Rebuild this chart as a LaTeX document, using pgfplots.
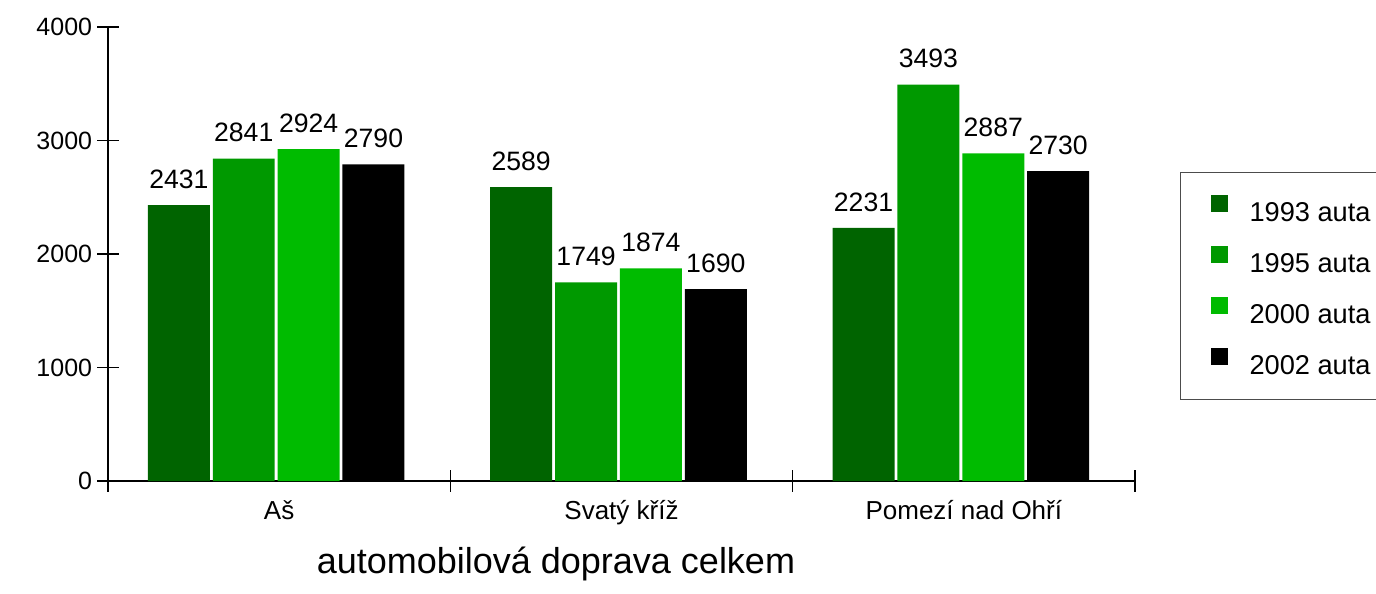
\documentclass[border=0pt]{standalone}
\usepackage{pgfplots}
\pgfplotsset{compat=1.18}
\usepackage{pgfplotstable}
\usepackage{fontspec}
\setmainfont{Liberation Sans}
\definecolor{cA}{RGB}{0,100,0}
\definecolor{cB}{RGB}{0,153,0}
\definecolor{cC}{RGB}{0,187,0}
\definecolor{cD}{RGB}{0,0,0}
\pgfplotstableread{
x y
0 2431
1 2589
2 2231
}\tA
\pgfplotstableread{
x y
0 2841
1 1749
2 3493
}\tB
\pgfplotstableread{
x y
0 2924
1 1874
2 2887
}\tC
\pgfplotstableread{
x y
0 2790
1 1690
2 2730
}\tD
\begin{document}
\begin{tikzpicture}
\useasboundingbox (-54pt,-56.5pt) rectangle (634pt,240.5pt);
\begin{axis}[
  at={(0,0)}, anchor=south west,
  scale only axis, width=513.5pt, height=227pt,
  clip=false,
  ybar, bar width=0.181,
  xmin=-0.5, xmax=2.5, ymin=0, ymax=4000,
  axis x line*=bottom, axis y line*=left,
  x axis line style={line width=1pt},
  y axis line style={line width=0.6pt},
  xtick={-0.5,0.5,1.5,2.5}, xticklabels={,,,,},
  extra x ticks={0,1,2},
  extra x tick labels={Aš,Svatý kříž,Pomezí nad Ohří},
  extra x tick style={major tick length=0pt,
    tick label style={font=\fontsize{13}{15}\selectfont, anchor=north, inner sep=0pt, text height=9.3pt, yshift=-9.5pt}},
  ytick={0,1000,2000,3000,4000},
  scaled y ticks=false,
  /pgf/number format/1000 sep={},
  /pgf/number format/assume math mode=true,
  tick align=center, major tick length=10.5pt,
  tick style={line width=0.8pt, black},
  yticklabel style={font=\fontsize{12.5}{14}\selectfont, inner sep=0pt, anchor=east, xshift=-2.5pt},
  nodes near coords,
  nodes near coords style={font=\fontsize{13.3}{15}\selectfont, anchor=south, inner sep=0pt, yshift=8pt},
  legend style={at={(1.0438,0.6806)}, anchor=north west, draw=black!70, line width=0.6pt,
    inner xsep=15pt, inner ysep=11pt, row sep=10.5pt, column sep=11pt,
    nodes={inner sep=0pt}, font=\fontsize{13.6}{16}\selectfont},
  legend cell align=left,
  legend image code/.code={\fill[#1] (0pt,1pt) rectangle (8.5pt,9.5pt);},
]
\addplot[fill=cA, draw=none, bar shift=-0.293] table[x=x,y=y] {\tA};
\addplot[fill=cB, draw=none, bar shift=-0.1035] table[x=x,y=y] {\tB};
\addplot[fill=cC, draw=none, bar shift=0.086] table[x=x,y=y] {\tC};
\addplot[fill=cD, draw=none, bar shift=0.2755] table[x=x,y=y] {\tD};
\legend{1993 auta, 1995 auta, 2000 auta, 2002 auta}
\node[anchor=base, font=\fontsize{18}{20}\selectfont, yshift=-46pt] at (rel axis cs:0.4362,0) {automobilová doprava celkem};
\end{axis}
\end{tikzpicture}
\end{document}
